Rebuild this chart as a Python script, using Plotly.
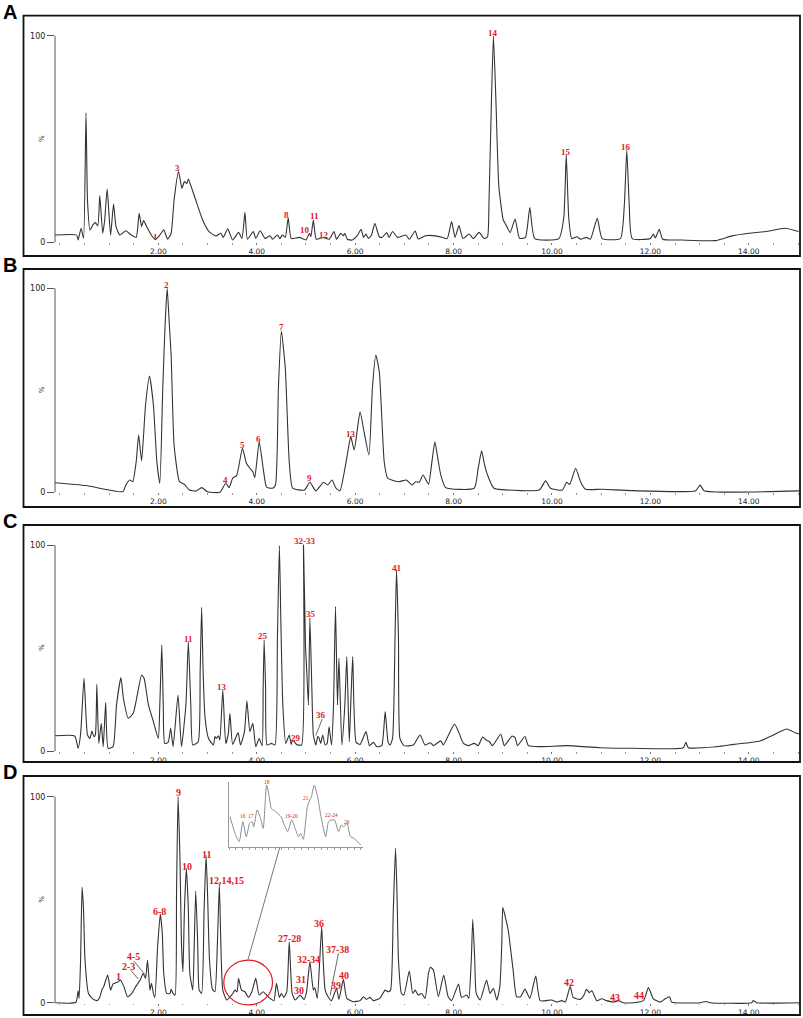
import plotly.graph_objects as go

W, H = 803, 1018

# ---- chromatogram traces (time in min, relative intensity %) ----
A_TIME = [-0.11, 0.34, 0.37, 0.43, 0.48, 0.53, 0.56, 0.61, 0.67, 0.72, 0.77, 0.81, 0.87, 0.91, 0.96,
          1.03, 1.09, 1.14, 1.22, 1.34, 1.45, 1.55, 1.61, 1.66, 1.70, 1.78, 1.88, 1.95, 2.03, 2.11,
          2.19, 2.26, 2.32, 2.41, 2.48, 2.53, 2.58, 2.61, 2.68, 2.76, 2.90, 3.03, 3.17, 3.27, 3.32,
          3.41, 3.51, 3.63, 3.70, 3.76, 3.81, 3.93, 3.98, 4.07, 4.17, 4.27, 4.32, 4.42, 4.47, 4.52,
          4.58, 4.64, 4.70, 4.86, 5.00, 5.07, 5.10, 5.15, 5.21, 5.35, 5.47, 5.57, 5.62, 5.71, 5.76,
          5.79, 5.84, 5.94, 6.05, 6.12, 6.17, 6.22, 6.27, 6.33, 6.40, 6.49, 6.55, 6.64, 6.69, 6.76,
          6.86, 7.03, 7.10, 7.22, 7.28, 7.43, 7.64, 7.77, 7.87, 7.96, 8.03, 8.11, 8.19, 8.32, 8.40,
          8.52, 8.62, 8.69, 8.72, 8.77, 8.81, 8.86, 8.92, 9.01, 9.07, 9.15, 9.25, 9.34, 9.46, 9.55, 9.65,
          10.14, 10.24, 10.29, 10.34, 10.40, 10.51, 10.58, 10.70, 10.78, 10.92, 11.02, 11.39, 11.47,
          11.52, 11.57, 11.63, 12.00, 12.06, 12.10, 12.18, 12.25, 12.65, 13.32, 13.66, 14.00, 14.34,
          14.74, 15.01]
A_INT = [3.5, 3.5, 1.1, 6.8, 1.9, 62.7, 20.5, 6.0, 8.4, 9.5, 7.9, 22.6, 4.4, 10.8, 25.8,
         3.5, 18.5, 7.6, 3.5, 5.6, 3.5, 2.4, 14.0, 7.6, 10.5, 6.8, 2.7, 1.5, 3.5, 6.0,
         1.5, 4.4, 20.5, 34.2, 26.1, 29.4, 28.5, 30.6, 26.1, 20.5, 10.8, 5.2, 3.1, 4.4, 2.4,
         6.5, 1.1, 4.8, 1.9, 14.5, 1.5, 5.2, 1.9, 5.6, 1.9, 3.2, 1.5, 3.5, 1.8, 3.5,
         2.4, 11.9, 1.8, 2.4, 1.1, 4.4, 2.7, 10.8, 1.5, 2.3, 1.5, 5.2, 1.5, 4.4, 3.1,
         4.4, 1.5, 1.1, 3.5, 6.3, 2.4, 4.0, 1.9, 3.4, 9.2, 2.7, 2.4, 4.7, 2.4, 5.2,
         2.4, 3.5, 1.5, 5.5, 1.6, 3.2, 3.1, 2.4, 1.8, 10.0, 2.4, 8.1, 1.8, 4.0, 1.8,
         4.8, 1.8, 2.7, 20.0, 69.0, 99.8, 69.0, 27.0, 10.8, 8.2, 4.7, 11.3, 1.9, 2.4, 16.8, 1.8,
         1.8, 12.0, 42.3, 12.0, 1.8, 2.7, 1.5, 2.4, 1.5, 11.6, 1.8, 1.8, 18.0,
         44.7, 18.0, 1.8, 1.8, 4.0, 2.1, 6.3, 1.5, 1.1, 0.8, 3.1, 4.4, 5.2,
         6.8, 5.2]

B_TIME = [-0.11, 0.53, 1.28, 1.34, 1.42, 1.48, 1.55, 1.60, 1.66, 1.74, 1.82, 1.90, 1.97, 2.03, 2.09,
          2.14, 2.18, 2.22, 2.26, 2.32, 2.43, 2.53, 2.63, 2.77, 2.88, 3.00, 3.25, 3.37, 3.44, 3.51,
          3.59, 3.71, 3.79, 3.86, 3.92, 3.96, 4.05, 4.13, 4.20, 4.32, 4.38, 4.44, 4.50, 4.58, 4.66,
          4.73, 4.97, 5.08, 5.20, 5.36, 5.44, 5.53, 5.61, 5.69, 5.84, 5.91, 5.98, 6.10, 6.18, 6.28,
          6.35, 6.42, 6.49, 6.59, 6.66, 6.89, 7.04, 7.16, 7.23, 7.30, 7.38, 7.49, 7.56, 7.62, 7.69,
          7.74, 7.84, 8.42, 8.50, 8.57, 8.63, 8.69, 8.82, 8.99, 9.74, 9.87, 9.97, 10.21, 10.30, 10.36,
          10.48, 10.58, 10.68, 11.02, 11.63, 12.92, 13.01, 13.09, 15.02]
B_INT = [4.7, 3.3, 0.3, 3.6, 6.0, 5.2, 15.0, 28.1, 15.4, 42.8, 57.0, 42.8, 15.0, 4.4, 51.0,
         83.7, 100.0, 83.7, 67.3, 23.2, 5.2, 3.9, 1.1, 0.7, 2.3, 0.3, 0.0, 4.4, 2.3, 6.9,
         8.2, 21.6, 14.2, 11.8, 10.1, 7.2, 24.8, 11.8, 2.5, 2.0, 3.6, 51.0, 79.1, 60.8, 15.0,
         2.0, 1.1, 4.9, 0.7, 4.9, 3.6, 6.0, 2.0, 0.7, 18.3, 27.3, 20.8, 39.5, 29.7, 18.3,
         51.0, 67.3, 59.2, 15.0, 6.9, 5.2, 6.0, 3.6, 5.2, 4.9, 8.5, 3.9, 15.0, 24.8, 15.0,
         8.5, 2.3, 2.0, 11.8, 20.3, 13.4, 8.5, 2.0, 1.3, 1.1, 5.6, 2.0, 1.1, 4.9, 3.9,
         11.8, 5.2, 1.5, 1.5, 0.8, 0.8, 3.6, 0.8, 0.7]

C_TIME = [-0.10, 0.30, 0.37, 0.42, 0.49, 0.56, 0.61, 0.65, 0.69, 0.72, 0.75, 0.79, 0.84, 0.88, 0.93,
          0.98, 1.08, 1.15, 1.24, 1.29, 1.39, 1.49, 1.56, 1.66, 1.71, 1.80, 1.90, 2.00, 2.03, 2.07,
          2.10, 2.13, 2.20, 2.25, 2.30, 2.40, 2.47, 2.56, 2.61, 2.66, 2.70, 2.81, 2.85, 2.88, 2.91,
          2.95, 3.02, 3.12, 3.15, 3.18, 3.22, 3.25, 3.31, 3.37, 3.42, 3.455, 3.51, 3.62, 3.67, 3.75,
          3.80, 3.86, 3.92, 3.98, 4.05, 4.11, 4.13, 4.15, 4.18, 4.21, 4.30, 4.37, 4.42, 4.46, 4.49,
          4.53, 4.59, 4.66, 4.70, 4.73, 4.81, 4.91, 4.95, 4.99, 5.01, 5.05, 5.08, 5.12, 5.15, 5.20,
          5.24, 5.27, 5.30, 5.34, 5.39, 5.43, 5.47, 5.52, 5.56, 5.60, 5.64, 5.67, 5.73, 5.79, 5.83,
          5.88, 5.91, 5.95, 6.02, 6.10, 6.22, 6.29, 6.37, 6.44, 6.54, 6.61, 6.67, 6.71, 6.76, 6.81,
          6.84, 6.88, 6.91, 6.99, 7.18, 7.32, 7.42, 7.53, 7.59, 7.74, 7.79, 7.93, 8.02, 8.10, 8.20,
          8.30, 8.42, 8.50, 8.59, 8.66, 8.73, 8.79, 8.96, 9.03, 9.19, 9.25, 9.30, 9.45, 9.52, 9.76,
          10.30, 10.98, 11.65, 12.67, 12.72, 12.77, 13.35, 13.69, 14.23, 14.50, 14.77, 14.94, 15.04]
C_INT = [7.4, 7.3, 1.3, 8.1, 35.3, 7.8, 6.1, 9.7, 7.0, 7.8, 32.4, 3.7, 13.4, 2.1, 23.5,
         1.3, 2.1, 22.3, 35.6, 25.6, 15.9, 18.3, 25.6, 36.9, 35.3, 22.3, 14.2, 6.1, 22.3, 51.5,
         22.3, 3.7, 4.2, 11.0, 2.1, 27.2, 2.1, 22.3, 53.1, 22.3, 2.9, 4.5, 38.5, 69.7, 38.5,
         15.9, 6.1, 2.9, 7.0, 6.1, 7.4, 5.3, 29.6, 3.7, 8.1, 18.3, 3.2, 8.9, 2.9, 9.4,
         24.4, 9.4, 13.4, 2.1, 6.1, 2.6, 30.4, 53.9, 30.4, 2.9, 3.7, 2.9, 54.7, 99.7, 62.8,
         22.3, 3.7, 7.8, 3.2, 5.3, 3.2, 2.9, 100.0, 51.5, 41.7, 22.3, 64.7, 30.4, 7.8, 2.9,
         7.0, 6.1, 3.7, 7.8, 2.9, 3.7, 11.8, 2.9, 22.3, 70.1, 22.3, 45.0, 2.9, 22.3, 45.8,
         4.5, 22.3, 45.8, 4.2, 3.2, 9.4, 2.6, 4.2, 2.1, 2.6, 19.1, 4.2, 2.9, 6.1, 54.7,
         87.9, 54.7, 6.1, 2.6, 2.9, 7.8, 2.9, 4.0, 2.6, 4.9, 2.9, 9.4, 13.1, 9.4, 3.7,
         2.6, 3.7, 2.6, 6.8, 5.3, 4.5, 2.6, 8.1, 2.6, 7.3, 6.5, 2.6, 7.0, 2.6, 2.1,
         2.6, 1.6, 1.3, 1.6, 4.2, 1.6, 2.1, 3.2, 4.9, 7.8, 10.7, 8.9, 8.1]

D_TIME = [-0.10, 0.325, 0.37, 0.39, 0.42, 0.45, 0.48, 0.51, 0.58, 0.68, 0.76, 0.81, 0.85, 0.89, 0.97,
          1.03, 1.08, 1.19, 1.23, 1.30, 1.375, 1.46, 1.54, 1.63, 1.69, 1.74, 1.78, 1.83, 1.86, 1.90,
          1.93, 1.985, 2.04, 2.08, 2.11, 2.17, 2.24, 2.26, 2.30, 2.34, 2.37, 2.40, 2.44, 2.47, 2.50,
          2.53, 2.57, 2.61, 2.64, 2.70, 2.73, 2.76, 2.80, 2.83, 2.88, 2.93, 2.97, 3.00, 3.04, 3.10,
          3.15, 3.20, 3.24, 3.27, 3.31, 3.39, 3.49, 3.56, 3.60, 3.63, 3.69, 3.76, 3.83, 3.90, 3.98,
          4.05, 4.13, 4.20, 4.30, 4.35, 4.40, 4.46, 4.50, 4.55, 4.61, 4.66, 4.72, 4.78, 4.88, 4.96,
          5.01, 5.08, 5.15, 5.18, 5.23, 5.28, 5.32, 5.35, 5.39, 5.45, 5.52, 5.62, 5.67, 5.76, 5.83,
          5.96, 6.10, 6.17, 6.23, 6.30, 6.37, 6.50, 6.61, 6.67, 6.72, 6.775, 6.82, 6.85, 6.88, 6.94,
          6.99, 7.10, 7.17, 7.22, 7.28, 7.35, 7.42, 7.49, 7.53, 7.59, 7.69, 7.80, 7.89, 7.96, 8.10,
          8.16, 8.27, 8.31, 8.36, 8.39, 8.43, 8.46, 8.54, 8.67, 8.74, 8.81, 8.88, 8.94, 8.98, 9.00,
          9.05, 9.11, 9.21, 9.28, 9.36, 9.45, 9.55, 9.67, 9.76, 9.99, 10.10, 10.20, 10.27, 10.37, 10.43,
          10.57, 10.65, 10.70, 10.76, 10.81, 10.91, 11.01, 11.11, 11.25, 11.35, 11.45, 11.65, 11.86, 11.96, 12.06,
          12.20, 12.30, 12.39, 12.43, 13.01, 13.13, 13.21, 14.06, 14.09, 14.16, 15.04]
D_INT = [0.0, 0.2, 5.8, 2.1, 20.7, 56.0, 45.0, 20.7, 4.5, 1.6, 1.0, 2.6, 6.1, 7.8, 13.4,
         6.1, 9.1, 10.2, 11.0, 7.8, 2.9, 4.5, 7.8, 11.0, 14.2, 11.8, 20.7, 6.1, 9.4, 4.5,
         2.6, 27.2, 42.9, 33.7, 14.2, 4.5, 4.5, 6.5, 4.5, 3.7, 53.1, 100.0, 69.3, 28.8, 15.0,
         45.0, 65.2, 45.0, 14.2, 6.1, 28.8, 54.2, 28.8, 6.1, 4.5, 45.0, 71.7, 53.1, 20.7, 6.5,
         5.3, 28.8, 57.6, 28.8, 6.1, 1.3, 3.7, 6.1, 5.3, 11.8, 6.1, 5.3, 2.6, 5.3, 11.8,
         3.7, 5.3, 3.7, 1.6, 1.0, 9.4, 2.6, 4.5, 2.6, 5.3, 29.6, 4.5, 1.3, 3.7, 1.6,
         4.9, 19.9, 6.1, 7.4, 2.1, 20.7, 36.9, 20.7, 6.1, 2.9, 1.0, 7.0, 1.6, 11.3, 2.1,
         0.5, 1.0, 2.9, 1.6, 2.6, 1.0, 2.1, 6.1, 5.3, 6.1, 45.0, 74.9, 53.1, 20.7, 4.5,
         3.7, 15.4, 4.5, 6.1, 3.7, 4.5, 2.1, 14.2, 17.2, 15.9, 2.9, 13.4, 2.9, 1.0, 9.1,
         2.6, 3.7, 2.1, 20.7, 40.5, 20.7, 4.5, 1.3, 11.0, 4.5, 7.0, 1.3, 7.8, 28.8, 46.3,
         41.7, 35.3, 15.9, 2.9, 2.9, 6.6, 2.1, 12.9, 1.0, 1.3, 0.3, 1.0, 0.3, 7.8, 2.6,
         1.6, 3.7, 6.5, 4.9, 5.8, 1.0, 1.9, 1.0, 0.3, 1.0, 0.0, 0.0, 1.0, 7.3, 1.9,
         0.3, 1.9, 2.9, 0.3, 0.0, 0.6, 0.0, 0.0, 1.0, 0.0, 0.0]

# zoomed inset of panel D (circled region)
INSET_TIME = [3.405, 3.444, 3.475, 3.503, 3.529, 3.555, 3.573, 3.586, 3.612, 3.638, 3.658, 3.684, 3.702,
              3.720, 3.754, 3.793, 3.819, 3.844, 3.875, 3.901, 3.927, 3.943, 3.963, 3.994, 4.012, 4.025,
              4.046, 4.072, 4.098, 4.134, 4.155, 4.175, 4.201, 4.232, 4.253, 4.271, 4.297, 4.322, 4.348, 4.400]
INSET_INT = [46.7, 21.3, 8.6, 39.1, 16.2, 36.5, 39.1, 31.5, 56.9, 44.2, 28.9, 94.9, 79.7,
             59.4, 54.3, 46.7, 34.0, 23.9, 41.6, 28.9, 16.2, 21.3, 12.2, 61.9, 72.1, 77.2,
             94.9, 77.2, 46.7, 16.2, 39.1, 41.6, 41.6, 23.9, 34.0, 31.5, 36.5, 16.2, 13.7, 3.6]

# peak labels (text, time, %)
A_LABELS = [("1", 1.95, 2.7), ("3", 2.39, 36.0), ("8", 4.61, 13.2), ("10", 4.98, 6.0),
            ("11", 5.17, 12.7), ("12", 5.36, 3.4), ("14", 8.81, 101.5), ("15", 10.29, 43.9),
            ("16", 11.50, 46.3)]
B_LABELS = [("2", 2.17, 101.6), ("4", 3.37, 5.9), ("5", 3.72, 23.2), ("6", 4.04, 26.3),
            ("7", 4.51, 81.0), ("9", 5.08, 6.9), ("13", 5.91, 28.6)]
C_LABELS = [("11", 2.62, 54.2), ("13", 3.30, 31.2), ("25", 4.12, 55.8), ("29", 4.79, 6.5),
            ("32-33", 4.97, 101.9), ("35", 5.10, 66.3), ("36", 5.30, 17.5), ("41", 6.84, 89.0)]
D_LABELS = [("1", 1.20, 12.6), ("2-3", 1.39, 17.5), ("4-5", 1.49, 22.3), ("6-8", 2.02, 44.5),
            ("9", 2.40, 101.9), ("10", 2.59, 66.3), ("11", 2.97, 71.8), ("12,14,15", 3.39, 59.5),
            ("27-28", 4.66, 31.2), ("30", 4.86, 5.8), ("31", 4.90, 11.3), ("32-34", 5.05, 21.0),
            ("36", 5.27, 38.5), ("37-38", 5.64, 26.0), ("39", 5.61, 8.4), ("40", 5.77, 13.1),
            ("42", 10.35, 9.9), ("43", 11.29, 2.4), ("44", 11.77, 3.7)]
INSET_LABELS = [("16", 3.503, 47.7), ("17", 3.568, 47.7), ("18", 3.684, 99.0), ("19-20", 3.875, 47.5),
                ("21", 3.987, 75.6), ("22-24", 4.180, 49.2), ("26", 4.297, 38.1)]

PANEL_LETTERS = ["A", "B", "C", "D"]
X_TICKS = [2, 4, 6, 8, 10, 12, 14]

# pixel geometry of each panel: box top, box bottom, y=100 line, y=0 line
PANELS = [(15.7, 256.0, 35.7, 242.3),
          (269.0, 507.0, 288.3, 492.3),
          (525.0, 762.0, 545.0, 751.0),
          (776.0, 1015.0, 796.7, 1002.7)]
BOX_LEFT, AXIS_LEFT, RIGHT = 23.5, 55.0, 800.0
Y_RANGE = [-6.5, 110.0]
X_RANGE = [-0.10, 15.04]

RED = "#e3191f"
TRACE = "#333333"
LBL_FONT = dict(family="Liberation Serif", size=9, color=RED, weight="bold")


def px(x):
    return x / W


def py(y):
    return 1 - y / H


def sfx(n):
    return "" if n == 1 else str(n)


series = [(A_TIME, A_INT, A_LABELS), (B_TIME, B_INT, B_LABELS),
          (C_TIME, C_INT, C_LABELS), (D_TIME, D_INT, D_LABELS)]

fig = go.Figure()
annotations = []
shapes = []
layout = {}

for i, ((t, v, labels), (btop, bbot, y100, y0)) in enumerate(zip(series, PANELS)):
    n = i + 1
    xa, ya = f"x{sfx(n)}", f"y{sfx(n)}"
    s = (y0 - y100) / 100.0
    dom_bot = y0 - Y_RANGE[0] * s
    dom_top = y100 - (Y_RANGE[1] - 100) * s

    fig.add_trace(go.Scatter(x=t, y=v, mode="lines", xaxis=xa, yaxis=ya,
                             line=dict(color=TRACE, width=1.1, shape="spline", smoothing=0.5),
                             hoverinfo="x+y", showlegend=False))

    layout[f"xaxis{sfx(n)}"] = dict(
        domain=[px(AXIS_LEFT), px(RIGHT)], range=X_RANGE, anchor="free", position=py(y0),
        tickvals=X_TICKS, tickformat=".2f", showgrid=False, zeroline=False, showline=False,
        ticks="outside", ticklen=2, tickcolor="#777",
        minor=dict(dtick=0.5, ticks="outside", ticklen=1.5, tickcolor="#999"),
        tickfont=dict(family="DejaVu Sans", size=7.5, color="#222"),
    )
    layout[f"yaxis{sfx(n)}"] = dict(
        domain=[py(dom_bot), py(dom_top)], range=Y_RANGE, anchor=xa,
        tickvals=[0, 100], ticktext=["0", "100"], ticks="outside", ticklen=7,
        tickcolor="#555", showgrid=False, zeroline=False, showline=False,
        tickfont=dict(family="DejaVu Sans", size=8, color="#222"),
    )

    # y axis line from 0 to 100
    shapes.append(dict(type="line", xref=f"{xa} domain", yref=ya, x0=0, x1=0, y0=0, y1=100,
                       line=dict(color="#555", width=1)))
    # panel frame
    shapes.append(dict(type="rect", xref="paper", yref="paper", x0=px(BOX_LEFT), x1=px(RIGHT),
                       y0=py(bbot), y1=py(btop), line=dict(color="#111", width=1.8)))

    annotations.append(dict(xref="paper", yref=ya, x=px(42), y=50, xanchor="center", text="%",
                            showarrow=False, textangle=-90,
                            font=dict(family="DejaVu Sans", size=7, color="#333")))
    annotations.append(dict(xref="paper", yref="paper", x=px(9.5), y=py(btop - 4), xanchor="center",
                            yanchor="middle", text=PANEL_LETTERS[i], showarrow=False,
                            font=dict(family="Liberation Sans", size=20, color="black", weight="bold")))
    for txt, lx, ly in labels:
        annotations.append(dict(xref=xa, yref=ya, x=lx, y=ly, text=txt, showarrow=False,
                                font=LBL_FONT if n < 4 else dict(LBL_FONT, size=10)))

# leader lines for crowded labels
LEADERS = [(3, 5.33, 15.5, 5.20, 7.5),
           (4, 1.50, 20.3, 1.75, 13.0),
           (4, 1.44, 15.8, 1.59, 11.5),
           (4, 5.66, 24.0, 5.49, 3.5)]
for n, x0, y0_, x1, y1 in LEADERS:
    shapes.append(dict(type="line", xref=f"x{sfx(n)}", yref=f"y{sfx(n)}", x0=x0, y0=y0_, x1=x1, y1=y1,
                       line=dict(color="#444", width=0.8)))

# circled region + link to the inset
shapes.append(dict(type="circle", xref="x4", yref="y4", x0=3.33, x1=4.32, y0=-1.1, y1=20.7,
                   line=dict(color=RED, width=1.2)))
shapes.append(dict(type="line", xref="x4", yref="y4", x0=3.82, y0=20.7, x1=4.47, y1=75.6,
                   line=dict(color="#777", width=1)))

# inset chromatogram
fig.add_trace(go.Scatter(x=INSET_TIME, y=INSET_INT, mode="lines", xaxis="x5", yaxis="y5",
                         line=dict(color="#8c8c8c", width=1, shape="spline", smoothing=0.6),
                         hoverinfo="x+y", showlegend=False))
layout["xaxis5"] = dict(domain=[px(229.3), px(363.3)], range=[3.40, 4.42], anchor="y5",
                        showline=True, linecolor="#999", linewidth=1, showgrid=False, zeroline=False,
                        ticks="outside", ticklen=2, tickcolor="#999", dtick=0.05, showticklabels=False)
layout["yaxis5"] = dict(domain=[py(847.3), py(781.7)], range=[0, 100], anchor="x5",
                        showline=True, linecolor="#999", linewidth=1, showgrid=False, zeroline=False,
                        showticklabels=False, ticks="")
for txt, lx, ly in INSET_LABELS:
    annotations.append(dict(xref="x5", yref="y5", x=lx, y=ly, text=txt, showarrow=False,
                            font=dict(family="Liberation Serif", size=5.5, color=RED)))

fig.update_layout(
    width=W, height=H,
    margin=dict(l=0, r=0, t=0, b=0),
    paper_bgcolor="white", plot_bgcolor="white",
    showlegend=False,
    annotations=annotations,
    shapes=shapes,
    **layout,
)

# the page's default body margin would shift the fixed-size figure
fig.write_html("out.html", config={"displayModeBar": False},
               post_script="document.body.style.margin = '0px';")
